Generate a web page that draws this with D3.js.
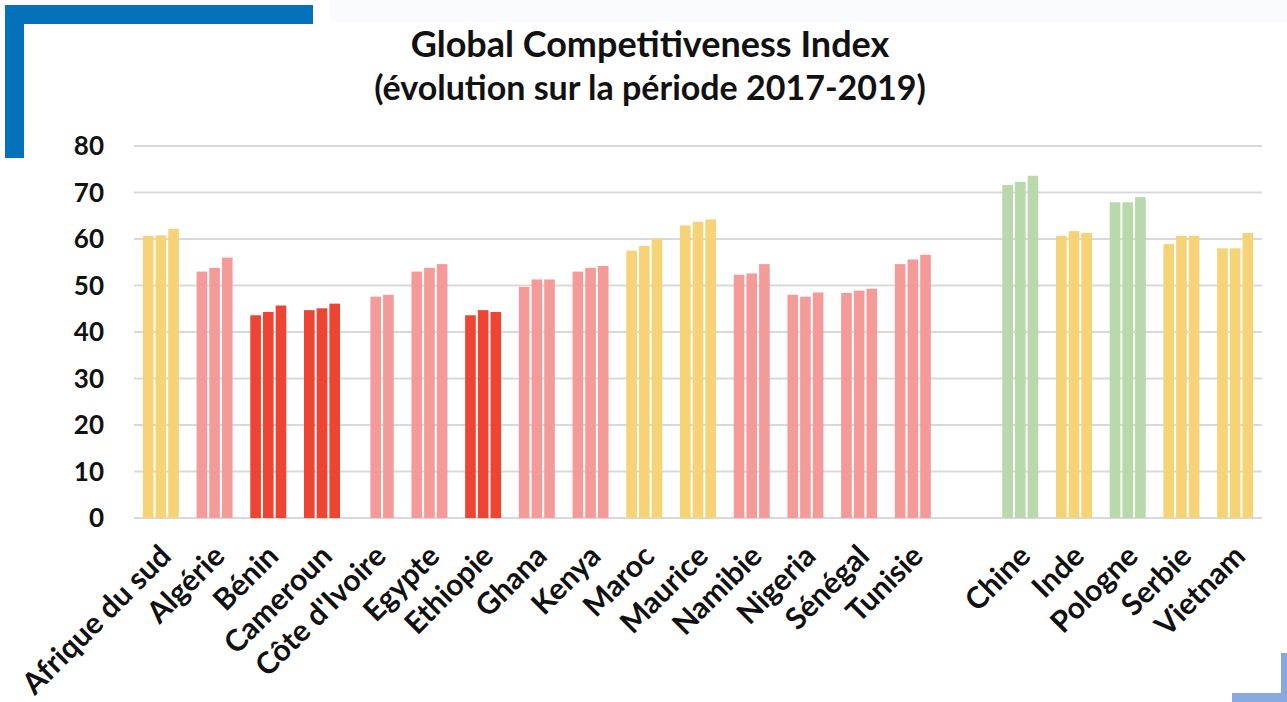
<!DOCTYPE html>
<html>
<head>
<meta charset="utf-8">
<script src="https://cdn.jsdelivr.net/npm/d3@7"></script>
<style>
  html, body { margin: 0; padding: 0; background: #ffffff; }
  svg { display: block; }
  text { font-family: Lato, "Open Sans", sans-serif; font-weight: 700; fill: #111; }
</style>
</head>
<body>
<svg id="chart" width="1287" height="702"></svg>
<script>
// ---- data ----
const categories = ["Afrique du sud","Algérie","Bénin","Cameroun","Côte d'Ivoire","Egypte","Ethiopie","Ghana","Kenya","Maroc","Maurice","Namibie","Nigeria","Sénégal","Tunisie","Chine","Inde","Pologne","Serbie","Vietnam"];
const years = ["2017","2018","2019"];
const v2017 = [60.7, 53.0, 43.6, 44.7, null, 53.0, 43.6, 49.7, 53.0, 57.5, 62.9, 52.3, 48.0, 48.4, 54.6, 71.6, 60.7, 67.9, 58.9, 58.0];
const v2018 = [60.8, 53.8, 44.3, 45.1, 47.6, 53.8, 44.7, 51.3, 53.8, 58.5, 63.7, 52.6, 47.6, 48.9, 55.6, 72.3, 61.7, 67.9, 60.7, 58.0];
const v2019 = [62.2, 56.0, 45.7, 46.1, 48.0, 54.6, 44.3, 51.3, 54.2, 60.0, 64.2, 54.6, 48.5, 49.3, 56.6, 73.6, 61.3, 69.0, 60.7, 61.3];
const groupOf = ["jaune","rose","rouge","rouge","rose","rose","rouge","rose","rose","jaune","jaune","rose","rose","rose","rose","vert","jaune","vert","jaune","jaune"];
const yTicks = [0,10,20,30,40,50,60,70,80];
const titleLines = ["Global Competitiveness Index", "(évolution sur la période 2017-2019)"];
// a blank slot separates African countries from the others
const spacerAfter = "Tunisie";

const palette = { jaune: "#F6D377", rose: "#F49B99", rouge: "#EE4434", vert: "#B9D9AC" };

const svg = d3.select("#chart");

// ---- decorations ----
svg.append("rect").attr("x", 330).attr("y", 0).attr("width", 957).attr("height", 22).attr("fill", "#F9FBFE");
svg.append("rect").attr("x", 5).attr("y", 5).attr("width", 308).attr("height", 19).attr("fill", "#0372BB");
svg.append("rect").attr("x", 5).attr("y", 5).attr("width", 19).attr("height", 153).attr("fill", "#0372BB");
svg.append("rect").attr("x", 1281).attr("y", 653).attr("width", 6).attr("height", 49).attr("fill", "#88A9DD");
svg.append("rect").attr("x", 1232).attr("y", 693).attr("width", 55).attr("height", 9).attr("fill", "#88A9DD");

// ---- scales ----
const slots = [];
categories.forEach(c => { slots.push(c); if (c === spacerAfter) slots.push("__gap__"); });

const x = d3.scaleBand().domain(slots).range([134, 1262]).padding(0);
const y = d3.scaleLinear().domain([0, 80]).range([518, 146]);
const xi = d3.scaleBand().domain(years).range([x.bandwidth()/2 - 18, x.bandwidth()/2 + 18]).paddingInner(0.16).paddingOuter(0);

// ---- title ----
svg.append("g").selectAll("text").data(titleLines).join("text")
  .attr("x", 650).attr("y", (d, i) => 57 + i * 43)
  .attr("text-anchor", "middle")
  .attr("font-size", (d, i) => i === 0 ? 36 : 34)
  .text(d => d);

// ---- grid ----
svg.append("g").selectAll("line").data(yTicks).join("line")
  .attr("x1", 134).attr("x2", 1262)
  .attr("y1", d => y(d)).attr("y2", d => y(d))
  .attr("stroke", "#D9D9D9").attr("stroke-width", 2);

// ---- y axis ----
const yAxis = d3.axisLeft(y).tickValues(yTicks).tickSize(0).tickPadding(0).tickFormat(d3.format("d"));
const gy = svg.append("g").attr("transform", "translate(104,0)").call(yAxis);
gy.select(".domain").remove();
gy.selectAll("text").attr("font-size", 26).attr("font-family", "Lato, sans-serif").attr("font-weight", 700).attr("fill", "#111").attr("dy", "0.34em");

// ---- bars ----
const rows = categories.map((c, i) => ({ cat: c, grp: groupOf[i], vals: [v2017[i], v2018[i], v2019[i]] }));
const g = svg.append("g");
const groups = g.selectAll("g.cat").data(rows).join("g")
  .attr("class", "cat")
  .attr("transform", d => `translate(${x(d.cat)},0)`);
groups.selectAll("rect").data(d => d.vals.map((v, k) => ({ v, year: years[k], grp: d.grp })).filter(e => e.v !== null))
  .join("rect")
  .attr("x", e => xi(e.year))
  .attr("width", xi.bandwidth())
  .attr("y", e => y(e.v))
  .attr("height", e => y(0) - y(e.v))
  .attr("fill", e => palette[e.grp]);

// ---- x labels ----
svg.append("g").selectAll("text").data(categories).join("text")
  .attr("transform", d => `translate(${x(d) + x.bandwidth()/2 + 12},558) rotate(-45)`)
  .attr("text-anchor", "end")
  .attr("font-size", 30)
  .text(d => d);
</script>
</body>
</html>
